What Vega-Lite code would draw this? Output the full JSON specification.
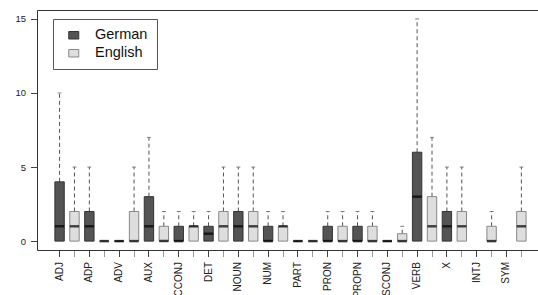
{
  "$schema": "https://vega.github.io/schema/vega-lite/v6.json",
  "width": 501,
  "height": 240,
  "autosize": "none",
  "padding": {"left": 37, "top": 10, "right": 0, "bottom": 45},
  "config": {
    "view": {"stroke": null},
    "font": "Liberation Sans",
    "axis": {"grid": false, "title": null, "domainColor": "#333", "tickColor": "#444", "labelColor": "#222"}
  },
  "data": {
    "values": [
      {"pos": "ADJ", "lang": "German", "box": "ADJ German", "q1": 0, "med": 1, "q3": 4, "hi": 10},
      {"pos": "ADJ", "lang": "English", "box": "ADJ English", "q1": 0, "med": 1, "q3": 2, "hi": 5},
      {"pos": "ADP", "lang": "German", "box": "ADP German", "q1": 0, "med": 1, "q3": 2, "hi": 5},
      {"pos": "ADP", "lang": "English", "box": "ADP English", "q1": 0, "med": 0, "q3": 0, "hi": 0},
      {"pos": "ADV", "lang": "German", "box": "ADV German", "q1": 0, "med": 0, "q3": 0, "hi": 0},
      {"pos": "ADV", "lang": "English", "box": "ADV English", "q1": 0, "med": 0, "q3": 2, "hi": 5},
      {"pos": "AUX", "lang": "German", "box": "AUX German", "q1": 0, "med": 1, "q3": 3, "hi": 7},
      {"pos": "AUX", "lang": "English", "box": "AUX English", "q1": 0, "med": 0, "q3": 1, "hi": 2},
      {"pos": "CCONJ", "lang": "German", "box": "CCONJ German", "q1": 0, "med": 0, "q3": 1, "hi": 2},
      {"pos": "CCONJ", "lang": "English", "box": "CCONJ English", "q1": 0, "med": 1, "q3": 1, "hi": 2},
      {"pos": "DET", "lang": "German", "box": "DET German", "q1": 0, "med": 0.5, "q3": 1, "hi": 2},
      {"pos": "DET", "lang": "English", "box": "DET English", "q1": 0, "med": 1, "q3": 2, "hi": 5},
      {"pos": "NOUN", "lang": "German", "box": "NOUN German", "q1": 0, "med": 1, "q3": 2, "hi": 5},
      {"pos": "NOUN", "lang": "English", "box": "NOUN English", "q1": 0, "med": 1, "q3": 2, "hi": 5},
      {"pos": "NUM", "lang": "German", "box": "NUM German", "q1": 0, "med": 0, "q3": 1, "hi": 2},
      {"pos": "NUM", "lang": "English", "box": "NUM English", "q1": 0, "med": 1, "q3": 1, "hi": 2},
      {"pos": "PART", "lang": "German", "box": "PART German", "q1": 0, "med": 0, "q3": 0, "hi": 0},
      {"pos": "PART", "lang": "English", "box": "PART English", "q1": 0, "med": 0, "q3": 0, "hi": 0},
      {"pos": "PRON", "lang": "German", "box": "PRON German", "q1": 0, "med": 0, "q3": 1, "hi": 2},
      {"pos": "PRON", "lang": "English", "box": "PRON English", "q1": 0, "med": 0, "q3": 1, "hi": 2},
      {"pos": "PROPN", "lang": "German", "box": "PROPN German", "q1": 0, "med": 0, "q3": 1, "hi": 2},
      {"pos": "PROPN", "lang": "English", "box": "PROPN English", "q1": 0, "med": 0, "q3": 1, "hi": 2},
      {"pos": "SCONJ", "lang": "German", "box": "SCONJ German", "q1": 0, "med": 0, "q3": 0, "hi": 0},
      {"pos": "SCONJ", "lang": "English", "box": "SCONJ English", "q1": 0, "med": 0, "q3": 0.5, "hi": 1},
      {"pos": "VERB", "lang": "German", "box": "VERB German", "q1": 0, "med": 3, "q3": 6, "hi": 15},
      {"pos": "VERB", "lang": "English", "box": "VERB English", "q1": 0, "med": 1, "q3": 3, "hi": 7},
      {"pos": "X", "lang": "German", "box": "X German", "q1": 0, "med": 1, "q3": 2, "hi": 5},
      {"pos": "X", "lang": "English", "box": "X English", "q1": 0, "med": 1, "q3": 2, "hi": 5},
      {"pos": "INTJ", "lang": "English", "box": "INTJ English", "q1": 0, "med": 0, "q3": 1, "hi": 2},
      {"pos": "SYM", "lang": "English", "box": "SYM English", "q1": 0, "med": 1, "q3": 2, "hi": 5}
    ]
  },
  "encoding": {
    "x": {
      "field": "box",
      "type": "nominal",
      "scale": {
        "domain": ["ADJ German", "ADJ English", "ADP German", "ADP English", "ADV German", "ADV English", "AUX German", "AUX English", "CCONJ German", "CCONJ English", "DET German", "DET English", "NOUN German", "NOUN English", "NUM German", "NUM English", "PART German", "PART English", "PRON German", "PRON English", "PROPN German", "PROPN English", "SCONJ German", "SCONJ English", "VERB German", "VERB English", "X German", "X English", "INTJ German", "INTJ English", "SYM German", "SYM English"],
        "paddingInner": 0.37,
        "paddingOuter": 1.19,
        "align": 0.6
      },
      "axis": null
    },
    "y": {
      "type": "quantitative",
      "scale": {"domain": [-0.6, 15.6], "nice": false, "zero": false},
      "axis": {"values": [0, 5, 10, 15], "labelAngle": 0, "tickSize": 6.5, "labelPadding": 5, "labelFontSize": 9.5, "title": null}
    }
  },
  "layer": [
    {
      "mark": {"type": "rule", "color": "#555", "strokeDash": [4, 3], "strokeWidth": 1},
      "encoding": {"y": {"field": "q3"}, "y2": {"field": "hi"}}
    },
    {
      "mark": {"type": "tick", "color": "#555", "size": 4, "thickness": 1},
      "encoding": {"y": {"field": "hi"}}
    },
    {
      "mark": {"type": "bar", "strokeWidth": 1},
      "encoding": {
        "x": {
          "field": "box",
          "type": "nominal",
          "axis": {
            "orient": "bottom",
            "labelAngle": -90,
            "labelFontSize": 10,
            "labelPadding": 5,
            "tickSize": 6.5,
            "labelOverlap": false,
            "labelExpr": "indexof(datum.value, 'German') > 0 ? split(datum.value, ' ')[0] : ''",
            "tickColor": {"condition": {"test": "indexof(datum.value, 'English') > 0", "value": "#9a9a9a"}, "value": "#444"}
          }
        },
        "y": {"field": "q1"},
        "y2": {"field": "q3"},
        "color": {
          "field": "lang",
          "type": "nominal",
          "scale": {"domain": ["German", "English"], "range": ["#545454", "#dedede"]},
          "legend": {
            "orient": "none",
            "legendX": 16,
            "legendY": 9,
            "title": null,
            "strokeColor": "#555",
            "fillColor": "white",
            "padding": 9,
            "symbolType": "M-1,-0.75H1V0.75H-1Z",
            "symbolSize": 100,
            "symbolStrokeColor": "#444",
            "symbolStrokeWidth": 1,
            "symbolOffset": 4.5,
            "labelFontSize": 14.5,
            "labelColor": "#111",
            "labelOffset": 14,
            "rowPadding": 3
          }
        },
        "stroke": {
          "field": "lang",
          "type": "nominal",
          "scale": {"domain": ["German", "English"], "range": ["#333333", "#888888"]},
          "legend": null
        }
      }
    },
    {
      "mark": {"type": "tick", "color": "#000", "size": 9.3, "thickness": 2.5},
      "encoding": {
        "x": {
          "field": "box",
          "type": "nominal",
          "axis": {"orient": "top", "labels": false, "ticks": false, "domain": true}
        },
        "y": {"field": "med"}
      }
    }
  ],
  "resolve": {"axis": {"x": "independent"}}
}
